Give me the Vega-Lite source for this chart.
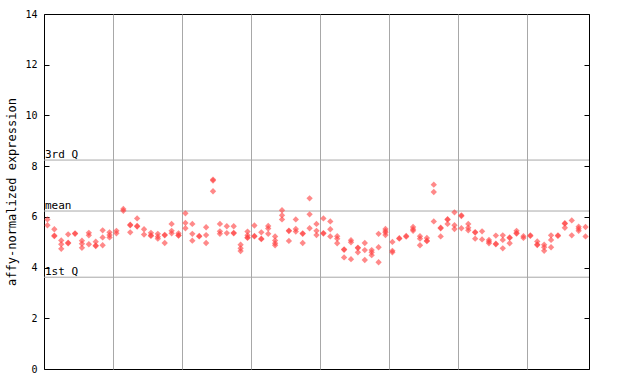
{
  "$schema": "https://vega.github.io/schema/vega-lite/v6.json",
  "width": 545,
  "height": 355,
  "autosize": "none",
  "padding": {"left": 44, "top": 14, "right": 51, "bottom": 15},
  "config": {"view": {"stroke": "#000", "strokeWidth": 1}, "font": "DejaVu Sans Mono", "background": "#ffffff"},
  "datasets": {
    "points": [
      {"i":0,"v":5.90},{"i":0,"v":5.67},
      {"i":1,"v":5.51},{"i":1,"v":5.26},{"i":1,"v":5.24},
      {"i":2,"v":5.07},{"i":2,"v":4.92},{"i":2,"v":4.74},
      {"i":3,"v":5.31},{"i":3,"v":4.98},{"i":3,"v":4.96},
      {"i":4,"v":5.35},{"i":4,"v":5.33},
      {"i":5,"v":5.06},{"i":5,"v":4.94},{"i":5,"v":4.78},
      {"i":6,"v":5.37},{"i":6,"v":5.27},{"i":6,"v":4.92},
      {"i":7,"v":5.02},{"i":7,"v":4.87},{"i":7,"v":4.85},
      {"i":8,"v":5.47},{"i":8,"v":5.19},{"i":8,"v":4.88},
      {"i":9,"v":5.39},{"i":9,"v":5.28},{"i":9,"v":5.19},
      {"i":10,"v":5.45},{"i":10,"v":5.35},
      {"i":11,"v":6.31},{"i":11,"v":6.24},
      {"i":12,"v":5.69},{"i":12,"v":5.67},{"i":12,"v":5.39},
      {"i":13,"v":5.94},{"i":13,"v":5.64},{"i":13,"v":5.62},
      {"i":14,"v":5.51},{"i":14,"v":5.30},
      {"i":15,"v":5.37},{"i":15,"v":5.27},{"i":15,"v":5.25},
      {"i":16,"v":5.33},{"i":16,"v":5.22},{"i":16,"v":5.14},
      {"i":17,"v":5.29},{"i":17,"v":5.27},{"i":17,"v":4.97},
      {"i":18,"v":5.72},{"i":18,"v":5.45},{"i":18,"v":5.35},
      {"i":19,"v":5.35},{"i":19,"v":5.27},{"i":19,"v":5.26},
      {"i":20,"v":6.14},{"i":20,"v":5.76},{"i":20,"v":5.55},
      {"i":21,"v":5.72},{"i":21,"v":5.33},{"i":21,"v":5.06},
      {"i":22,"v":5.25},{"i":22,"v":5.23},
      {"i":23,"v":5.59},{"i":23,"v":5.28},{"i":23,"v":4.97},
      {"i":24,"v":7.47},{"i":24,"v":7.43},{"i":24,"v":7.01},
      {"i":25,"v":5.72},{"i":25,"v":5.43},{"i":25,"v":5.33},
      {"i":26,"v":5.63},{"i":26,"v":5.36},
      {"i":27,"v":5.63},{"i":27,"v":5.37},{"i":27,"v":5.35},
      {"i":28,"v":4.90},{"i":28,"v":4.76},{"i":28,"v":4.65},
      {"i":29,"v":5.42},{"i":29,"v":5.27},{"i":29,"v":5.19},{"i":29,"v":5.17},
      {"i":30,"v":5.66},{"i":30,"v":5.25},{"i":30,"v":5.23},
      {"i":31,"v":5.39},{"i":31,"v":5.14},{"i":31,"v":5.12},
      {"i":32,"v":5.64},{"i":32,"v":5.54},{"i":32,"v":5.33},
      {"i":33,"v":5.23},{"i":33,"v":5.07},{"i":33,"v":4.96},{"i":33,"v":4.88},
      {"i":34,"v":6.26},{"i":34,"v":6.06},{"i":34,"v":5.90},
      {"i":35,"v":5.46},{"i":35,"v":5.44},{"i":35,"v":5.05},
      {"i":36,"v":5.90},{"i":36,"v":5.52},{"i":36,"v":5.42},
      {"i":37,"v":5.35},{"i":37,"v":5.33},{"i":37,"v":4.97},
      {"i":38,"v":6.73},{"i":38,"v":6.10},{"i":38,"v":5.55},
      {"i":39,"v":5.72},{"i":39,"v":5.45},{"i":39,"v":5.28},
      {"i":40,"v":5.94},{"i":40,"v":5.36},{"i":40,"v":5.34},
      {"i":41,"v":5.82},{"i":41,"v":5.51},{"i":41,"v":5.23},
      {"i":42,"v":5.24},{"i":42,"v":5.14},{"i":42,"v":4.96},
      {"i":43,"v":4.72},{"i":43,"v":4.70},{"i":43,"v":4.40},
      {"i":44,"v":5.08},{"i":44,"v":5.00},{"i":44,"v":4.33},
      {"i":45,"v":4.79},{"i":45,"v":4.77},{"i":45,"v":4.60},
      {"i":46,"v":4.97},{"i":46,"v":4.69},{"i":46,"v":4.30},
      {"i":47,"v":4.69},{"i":47,"v":4.60},{"i":47,"v":4.49},
      {"i":48,"v":5.33},{"i":48,"v":4.80},{"i":48,"v":4.21},
      {"i":49,"v":5.52},{"i":49,"v":5.44},{"i":49,"v":5.38},{"i":49,"v":5.28},
      {"i":50,"v":5.01},{"i":50,"v":4.66},{"i":50,"v":4.60},
      {"i":51,"v":5.16},{"i":51,"v":5.14},
      {"i":52,"v":5.25},{"i":52,"v":5.22},
      {"i":53,"v":5.60},{"i":53,"v":5.51},{"i":53,"v":5.45},
      {"i":54,"v":5.24},{"i":54,"v":5.14},{"i":54,"v":4.88},
      {"i":55,"v":5.17},{"i":55,"v":5.06},{"i":55,"v":5.04},
      {"i":56,"v":7.27},{"i":56,"v":6.98},{"i":56,"v":5.82},
      {"i":57,"v":5.57},{"i":57,"v":5.55},{"i":57,"v":5.23},
      {"i":58,"v":5.91},{"i":58,"v":5.89},{"i":58,"v":5.72},
      {"i":59,"v":6.18},{"i":59,"v":5.67},{"i":59,"v":5.52},
      {"i":60,"v":6.06},{"i":60,"v":6.03},{"i":60,"v":5.55},
      {"i":61,"v":5.72},{"i":61,"v":5.57},{"i":61,"v":5.47},
      {"i":62,"v":5.40},{"i":62,"v":5.38},{"i":62,"v":5.14},
      {"i":63,"v":5.43},{"i":63,"v":5.11},
      {"i":64,"v":5.09},{"i":64,"v":5.02},{"i":64,"v":4.96},
      {"i":65,"v":5.26},{"i":65,"v":4.94},{"i":65,"v":4.92},
      {"i":66,"v":5.27},{"i":66,"v":5.09},{"i":66,"v":4.76},
      {"i":67,"v":5.19},{"i":67,"v":5.17},{"i":67,"v":4.96},
      {"i":68,"v":5.45},{"i":68,"v":5.36},{"i":68,"v":5.34},
      {"i":69,"v":5.24},{"i":69,"v":5.17},
      {"i":70,"v":5.27},{"i":70,"v":5.25},
      {"i":71,"v":5.03},{"i":71,"v":4.91},{"i":71,"v":4.89},
      {"i":72,"v":4.90},{"i":72,"v":4.80},{"i":72,"v":4.66},
      {"i":73,"v":5.27},{"i":73,"v":5.09},{"i":73,"v":4.80},
      {"i":74,"v":5.27},{"i":74,"v":5.25},
      {"i":75,"v":5.75},{"i":75,"v":5.73},{"i":75,"v":5.57},
      {"i":76,"v":5.86},{"i":76,"v":5.27},
      {"i":77,"v":5.61},{"i":77,"v":5.53},{"i":77,"v":5.45},
      {"i":78,"v":5.60},{"i":78,"v":5.23}
    ],
    "quartiles": [
      {"label": "3rd Q", "value": 8.24},
      {"label": "mean", "value": 6.23},
      {"label": "1st Q", "value": 3.62}
    ]
  },
  "layer": [
    {
      "data": {"name": "quartiles"},
      "mark": {"type": "rule", "color": "#a8a8a8", "strokeWidth": 1},
      "encoding": {
        "y": {
          "field": "value", "type": "quantitative",
          "scale": {"domain": [0, 14], "nice": false},
          "axis": {"orient": "right", "values": [0,2,4,6,8,10,12,14], "labels": false, "tickSize": -5, "tickColor": "#000", "domain": false, "grid": false, "title": null}
        }
      }
    },
    {
      "data": {"name": "points"},
      "mark": {"type": "point", "shape": "diamond", "filled": true, "size": 40, "color": "#ff4040", "opacity": 0.62, "strokeWidth": 0},
      "encoding": {
        "x": {
          "field": "i", "type": "quantitative",
          "scale": {"domain": [-0.5, 78.5], "nice": false, "zero": false},
          "axis": {"values": [9.5,19.5,29.5,39.5,49.5,59.5,69.5], "grid": true, "gridColor": "#a8a8a8", "gridOpacity": 1, "labels": false, "ticks": false, "domain": false, "title": null}
        },
        "y": {
          "field": "v", "type": "quantitative",
          "scale": {"domain": [0, 14], "nice": false},
          "axis": {"orient": "left", "values": [0,2,4,6,8,10,12,14], "grid": false, "domain": false, "tickSize": -5, "tickColor": "#000", "labelFont": "DejaVu Sans Mono", "labelFontSize": 10, "labelColor": "#000", "labelPadding": 12, "title": "affy-normalized expression", "titleFont": "DejaVu Sans Mono", "titleFontSize": 12, "titleFontWeight": "normal", "titleColor": "#000", "titlePadding": 6}
        }
      }
    },
    {
      "data": {"name": "quartiles"},
      "mark": {"type": "text", "align": "left", "baseline": "bottom", "dx": 1, "dy": 0, "fontSize": 11, "font": "DejaVu Sans Mono", "color": "#000"},
      "encoding": {
        "x": {"datum": -0.5, "type": "quantitative"},
        "y": {"field": "value", "type": "quantitative", "axis": null},
        "text": {"field": "label"}
      }
    }
  ],
  "resolve": {"axis": {"y": "independent"}}
}
